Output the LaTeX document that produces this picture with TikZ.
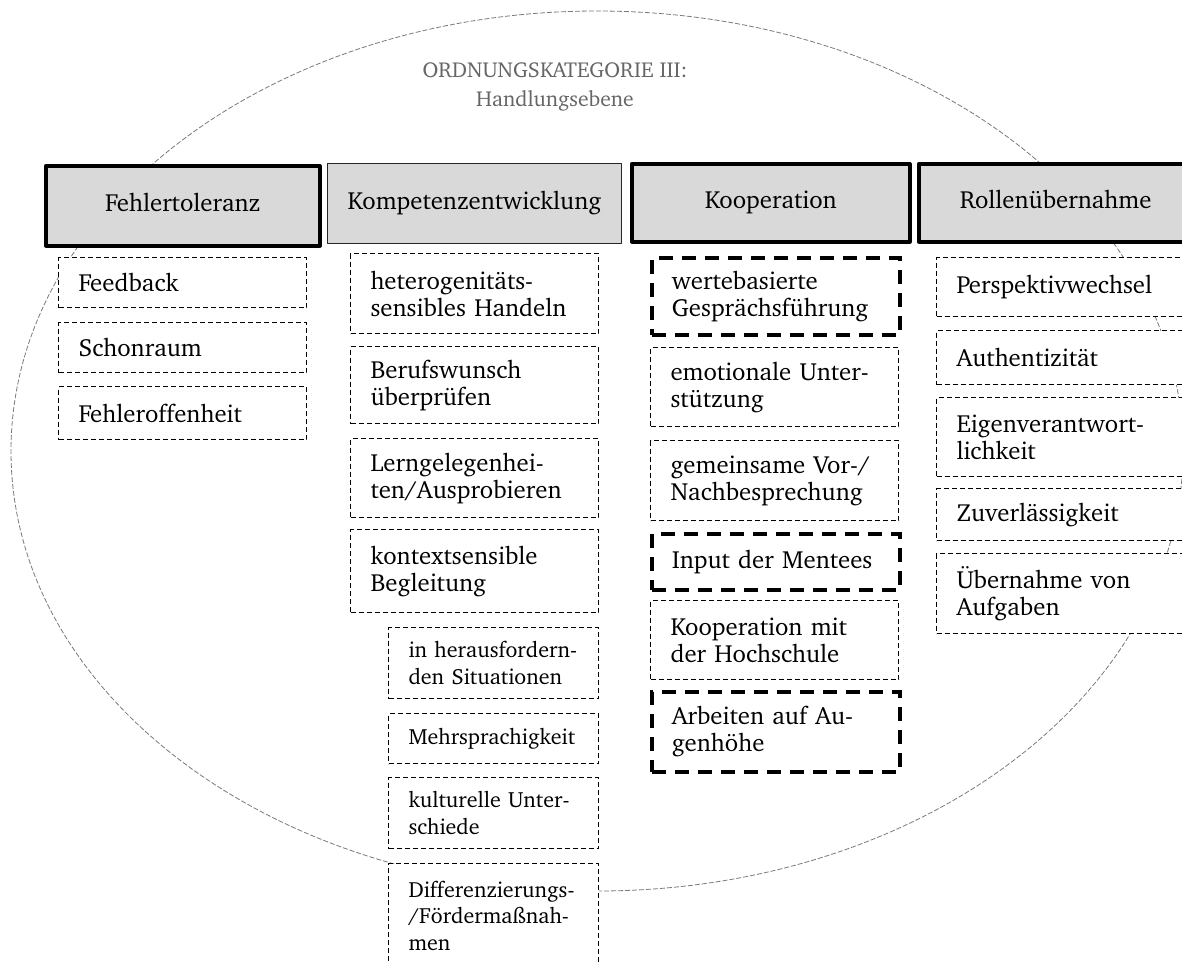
\documentclass[tikz,border=0pt]{standalone}
\usepackage[T1]{fontenc}
\renewcommand{\rmdefault}{bch}
\definecolor{headgray}{HTML}{D9D9D9}
\definecolor{titlegray}{HTML}{666666}
\definecolor{orbitgray}{HTML}{7A7A7A}
\begin{document}
\begin{tikzpicture}[x=1pt,y=-1pt,
  txt/.style={font=\fontsize{24.8}{27}\selectfont},
  head/.style={draw, fill=headgray, line width=3.5pt, line join=round, txt,
    inner sep=0pt, anchor=north west, align=center, text height=17pt, text depth=5pt},
  headthin/.style={head, line width=1pt, draw=black!85},
  item/.style={draw, fill=white, line width=1pt, dash pattern=on 5pt off 3pt,
    txt, align=left, inner xsep=20pt, inner ysep=0pt, anchor=north west},
  itembold/.style={item, line width=3.5pt, dash pattern=on 14pt off 9pt},
  subitem/.style={item, font=\fontsize{22}{26.5}\selectfont},
  orbit/.style={draw=orbitgray, line width=0.8pt, dash pattern=on 5pt off 2pt},
  title/.style={txt, text=titlegray, align=center, font=\fontsize{21.6}{29}\selectfont}
]
\useasboundingbox (0,0) rectangle (1182,962);
\clip (0,0) rectangle (1182,962);

% category outline
\draw[orbit] (597,451) ellipse [x radius=586, y radius=440];

\node[title] (title) at (555,87) {ORDNUNGSKATEGORIE III:\\Handlungsebene};

% column headings
\node[head, minimum width=274pt, minimum height=80pt] (h1) at (44,164) {Fehlertoleranz};
\node[headthin, minimum width=294pt, minimum height=80pt] (h2) at (327,163) {Kompetenzentwicklung};
\node[head, minimum width=278pt, minimum height=78pt] (h3) at (630,162) {Kooperation};
\node[head, minimum width=274pt, minimum height=78pt] (h4) at (917,162) {Rollen\"ubernahme};

% Fehlertoleranz
\node[item, text width=208pt, minimum height=50pt] (a1) at (58,257) {Feedback};
\node[item, text width=208pt, minimum height=50pt] (a2) at (58,322) {Schonraum};
\node[item, text width=208pt, minimum height=53pt] (a3) at (58,386) {Fehleroffenheit};

% Kompetenzentwicklung
\node[item, text width=208pt, minimum height=80pt] (b1) at (350,253) {heterogenit\"ats-\\sensibles~Handeln};
\node[item, text width=208pt, minimum height=77pt] (b2) at (350,346) {Berufswunsch\\\"uberpr\"ufen};
\node[item, text width=208pt, minimum height=79pt] (b3) at (350,438) {Lerngelegenhei-\\ten/Ausprobieren};
\node[item, text width=208pt, minimum height=83pt] (b4) at (350,529) {kontextsensible\\Begleitung};
\node[subitem, text width=170pt, minimum height=71pt] (c1) at (388,627) {in~herausfordern-\\den~Situationen};
\node[subitem, text width=170pt, minimum height=50pt] (c2) at (388,713) {Mehrsprachigkeit};
\node[subitem, text width=170pt, minimum height=71pt] (c3) at (388,777) {kulturelle~Unter-\\schiede};
\node[subitem, text width=170pt, minimum height=104pt] (c4) at (388,863) {Differenzierungs-\\/F\"orderma\ss nah-\\men};

% Kooperation
\node[itembold, text width=208pt, minimum height=77pt] (k1) at (650,256) {wertebasierte\\Gespr\"achsf\"uhrung};
\node[item, text width=208pt, minimum height=79pt] (k2) at (650,347) {emotionale~Unter-\\st\"utzung};
\node[item, text width=208pt, minimum height=80pt] (k3) at (650,440) {gemeinsame~Vor-/\\Nachbesprechung};
\node[itembold, text width=208pt, minimum height=56pt] (k4) at (650,532) {Input~der~Mentees};
\node[item, text width=208pt, minimum height=79pt] (k5) at (650,600) {Kooperation~mit\\der~Hochschule};
\node[itembold, text width=208pt, minimum height=80pt] (k6) at (650,690) {Arbeiten~auf~Au-\\genh\"ohe};

% Rollenuebernahme
\node[item, text width=208pt, minimum height=59pt] (r1) at (936,257) {Perspektivwechsel};
\node[item, text width=208pt, minimum height=54pt] (r2) at (936,330) {Authentizit\"at};
\node[item, text width=208pt, minimum height=79pt] (r3) at (936,397) {Eigenverantwort-\\lichkeit};
\node[item, text width=208pt, minimum height=52pt] (r4) at (936,488) {Zuverl\"assigkeit};
\node[item, text width=208pt, minimum height=80pt] (r5) at (936,553) {\"Ubernahme~von\\Aufgaben};
\end{tikzpicture}
\end{document}
